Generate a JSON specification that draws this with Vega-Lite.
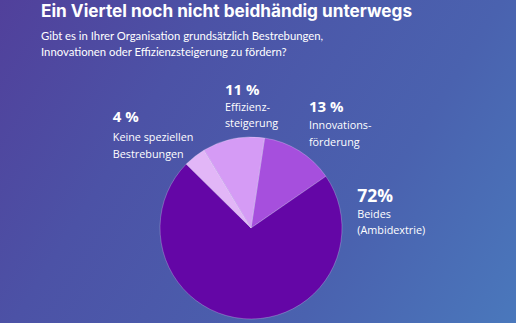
{
  "$schema": "https://vega.github.io/schema/vega-lite/v6.json",
  "width": 502,
  "height": 190,
  "autosize": "none",
  "padding": {"left": 0, "top": 133, "right": 14, "bottom": 0},
  "background": "#4C5AAA",
  "title": {
    "text": "Ein Viertel noch nicht beidhändig unterwegs",
    "subtitle": ["Gibt es in Ihrer Organisation grundsätzlich Bestrebungen,", "Innovationen oder Effizienzsteigerung zu fördern?"],
    "anchor": "start",
    "frame": "group",
    "dx": 41,
    "offset": -230,
    "zindex": 1,
    "font": "Inter",
    "fontSize": 17.2,
    "fontWeight": "bold",
    "color": "#ffffff",
    "subtitleFont": "Lato",
    "subtitleFontSize": 11.3,
    "subtitleColor": "#ffffff",
    "subtitleLineHeight": 15.5,
    "subtitlePadding": 11
  },
  "data": {
    "values": [
      {"label": "Innovationsförderung", "pct": "13 %", "desc": "Innovations-\nförderung", "value": 13, "rank": 1},
      {"label": "Beides (Ambidextrie)", "pct": "72%", "desc": "Beides\n(Ambidextrie)", "value": 72, "rank": 2},
      {"label": "Keine speziellen Bestrebungen", "pct": "4 %", "desc": "Keine speziellen\nBestrebungen", "value": 4, "rank": 3},
      {"label": "Effizienzsteigerung", "pct": "11 %", "desc": "Effizienz-\nsteigerung", "value": 11, "rank": 4}
    ]
  },
  "transform": [
    {"stack": "value", "groupby": [], "sort": [{"field": "rank", "order": "ascending"}], "as": ["v0", "v1"]}
  ],
  "layer": [
    {
      "mark": {
        "type": "arc", "radius": 400, "theta": 0, "theta2": 6.2832, "zindex": 0,
        "fill": {
          "gradient": "linear", "x1": 0.186, "y1": 0.215, "x2": 0.831, "y2": 0.619,
          "stops": [
            {"offset": 0, "color": "#51409B"},
            {"offset": 0.3, "color": "#4C52A6"},
            {"offset": 0.7, "color": "#4A62AF"},
            {"offset": 1, "color": "#4A78BC"}
          ]
        }
      },
      "encoding": {}
    },
    {
      "mark": {"type": "arc", "outerRadius": 91, "stroke": "#ffffff", "strokeOpacity": 0.3, "strokeWidth": 0.8},
      "encoding": {
        "theta": {"field": "v0", "type": "quantitative", "scale": {"domain": [0, 100], "range": [0.150, 6.433]}},
        "theta2": {"field": "v1"},
        "color": {
          "field": "label", "type": "nominal", "legend": null,
          "scale": {
            "domain": ["Innovationsförderung", "Beides (Ambidextrie)", "Keine speziellen Bestrebungen", "Effizienzsteigerung"],
            "range": ["#A64FDD", "#6406A6", "#E2B6F7", "#D59BF5"]
          }
        }
      }
    },
    {
      "transform": [{"filter": "datum.rank == 1"}],
      "mark": {"type": "text", "radius": 100, "dx": 43, "dy": -17, "align": "left", "baseline": "alphabetic", "font": "Open Sans", "fontWeight": "bold", "fontSize": 15, "color": "#ffffff"},
      "encoding": {"theta": {"field": "v0", "type": "quantitative"}, "text": {"field": "pct"}}
    },
    {
      "transform": [{"filter": "datum.rank == 1"}],
      "mark": {"type": "text", "radius": 100, "dx": 43, "dy": 0, "align": "left", "baseline": "alphabetic", "font": "Open Sans", "fontSize": 10.8, "lineHeight": 16.5, "lineBreak": "\n", "color": "#ffffff"},
      "encoding": {"theta": {"field": "v0", "type": "quantitative"}, "text": {"field": "desc"}}
    },
    {
      "transform": [{"filter": "datum.rank == 2"}],
      "mark": {"type": "text", "radius": 100, "dx": 24, "dy": 31, "align": "left", "baseline": "alphabetic", "font": "Open Sans", "fontWeight": "bold", "fontSize": 17.5, "color": "#ffffff"},
      "encoding": {"theta": {"field": "v0", "type": "quantitative"}, "text": {"field": "pct"}}
    },
    {
      "transform": [{"filter": "datum.rank == 2"}],
      "mark": {"type": "text", "radius": 100, "dx": 24, "dy": 47, "align": "left", "baseline": "alphabetic", "font": "Open Sans", "fontSize": 10.8, "lineHeight": 15.5, "lineBreak": "\n", "color": "#ffffff"},
      "encoding": {"theta": {"field": "v0", "type": "quantitative"}, "text": {"field": "desc"}}
    },
    {
      "transform": [{"filter": "datum.rank == 3"}],
      "mark": {"type": "text", "radius": 100, "dx": -67, "dy": -36, "align": "left", "baseline": "alphabetic", "font": "Open Sans", "fontWeight": "bold", "fontSize": 15, "color": "#ffffff"},
      "encoding": {"theta": {"field": "v0", "type": "quantitative"}, "text": {"field": "pct"}}
    },
    {
      "transform": [{"filter": "datum.rank == 3"}],
      "mark": {"type": "text", "radius": 100, "dx": -67, "dy": -17, "align": "left", "baseline": "alphabetic", "font": "Open Sans", "fontSize": 10.8, "lineHeight": 17, "lineBreak": "\n", "color": "#ffffff"},
      "encoding": {"theta": {"field": "v0", "type": "quantitative"}, "text": {"field": "desc"}}
    },
    {
      "transform": [{"filter": "datum.rank == 4"}],
      "mark": {"type": "text", "radius": 100, "dx": 25.5, "dy": -47, "align": "left", "baseline": "alphabetic", "font": "Open Sans", "fontWeight": "bold", "fontSize": 15, "color": "#ffffff"},
      "encoding": {"theta": {"field": "v0", "type": "quantitative"}, "text": {"field": "pct"}}
    },
    {
      "transform": [{"filter": "datum.rank == 4"}],
      "mark": {"type": "text", "radius": 100, "dx": 25.5, "dy": -31, "align": "left", "baseline": "alphabetic", "font": "Open Sans", "fontSize": 10.8, "lineHeight": 16, "lineBreak": "\n", "color": "#ffffff"},
      "encoding": {"theta": {"field": "v0", "type": "quantitative"}, "text": {"field": "desc"}}
    }
  ],
  "config": {"view": {"stroke": null}}
}
